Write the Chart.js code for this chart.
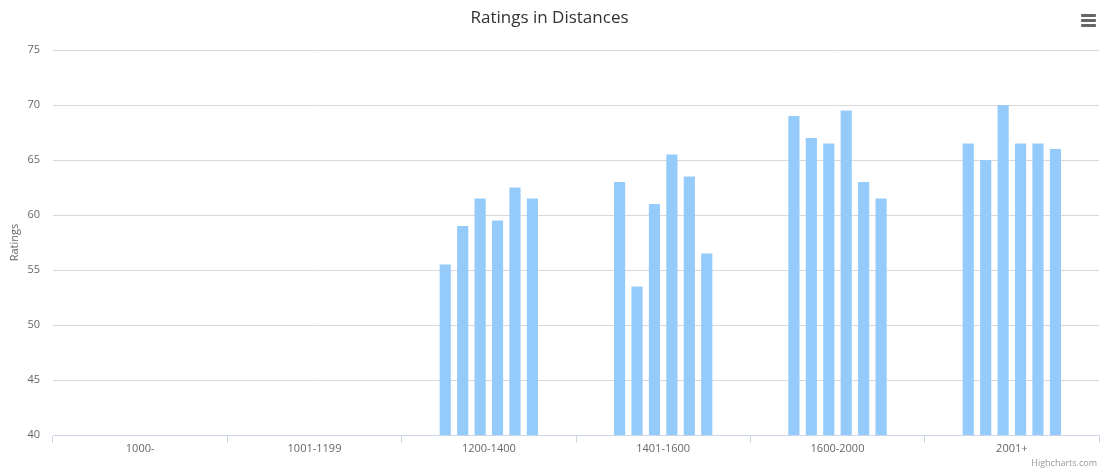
<!DOCTYPE html>
<html>
<head>
<meta charset="utf-8">
<script src="https://cdn.jsdelivr.net/npm/chart.js@4/dist/chart.umd.min.js"></script>
<style>
    body { margin: 0; background: #fff; }
    #wrap { position: relative; width: 1101px; height: 470px; }
    #menu { position: absolute; left: 1081px; top: 14px; width: 15px; }
    #menu div { height: 3px; background: #666; margin-bottom: 2px; border-radius: 1px; }
    #credits { position: absolute; right: 4px; top: 456px; font: 9px "Open Sans", sans-serif; color: #999; }
</style>
</head>
<body>
<div id="wrap">
    <canvas id="ratings-chart" width="1101" height="470"></canvas>
    <div id="menu"><div></div><div></div><div></div></div>
    <div id="credits">Highcharts.com</div>
</div>
<script>
// distance buckets on the x axis
const categories = ['1000-', '1001-1199', '1200-1400', '1401-1600', '1600-2000', '2001+'];

// ratings, one array per series (first two buckets have no data)
const series1 = [null, null, 55.5, 63, 69, 66.5];
const series2 = [null, null, 59, 53.5, 67, 65];
const series3 = [null, null, 61.5, 61, 66.5, 70];
const series4 = [null, null, 59.5, 65.5, 69.5, 66.5];
const series5 = [null, null, 62.5, 63.5, 63, 66.5];
const series6 = [null, null, 61.5, 56.5, 61.5, 66];

const yTicks = [40, 45, 50, 55, 60, 65, 70, 75];

const allSeries = [series1, series2, series3, series4, series5, series6];
const barColor = '#95cbfa';

const ctx = document.getElementById('ratings-chart').getContext('2d');
new Chart(ctx, {
    type: 'bar',
    data: {
        labels: categories,
        datasets: allSeries.map((values, i) => ({
            label: 'Series ' + (i + 1),
            data: values,
            backgroundColor: barColor,
            borderWidth: 0,
            categoryPercentage: 0.6,
            barPercentage: 0.64
        }))
    },
    options: {
        responsive: false,
        animation: false,
        layout: { padding: { left: 0, right: 2, top: 0, bottom: 0 } },
        plugins: {
            legend: { display: false },
            tooltip: { enabled: false },
            title: {
                display: true,
                text: 'Ratings in Distances',
                color: '#333',
                font: { family: 'Open Sans', size: 17, weight: 'normal' },
                padding: { top: 8, bottom: 21.6 }
            }
        },
        scales: {
            x: {
                grid: {
                    offset: true,
                    drawOnChartArea: false,
                    drawTicks: true,
                    tickLength: 8,
                    color: '#ccd6eb'
                },
                border: { color: '#ccd6eb' },
                ticks: {
                    color: '#666',
                    padding: -1,
                    maxRotation: 0,
                    font: { family: 'Open Sans', size: 11 }
                },
                afterFit: scale => { scale.height = 35; }
            },
            y: {
                min: 40,
                max: 75,
                afterBuildTicks: scale => { scale.ticks = yTicks.map(v => ({ value: v })); },
                grid: { color: '#d8d8d8', drawTicks: false },
                border: { display: false },
                ticks: {
                    color: '#666',
                    padding: 13,
                    font: { family: 'Open Sans', size: 11 }
                },
                title: {
                    display: true,
                    text: 'Ratings',
                    color: '#666',
                    padding: { top: 8, bottom: 0 },
                    font: { family: 'Open Sans', size: 11 }
                },
                afterFit: scale => { scale.width = 53; }
            }
        }
    }
});
</script>
</body>
</html>
